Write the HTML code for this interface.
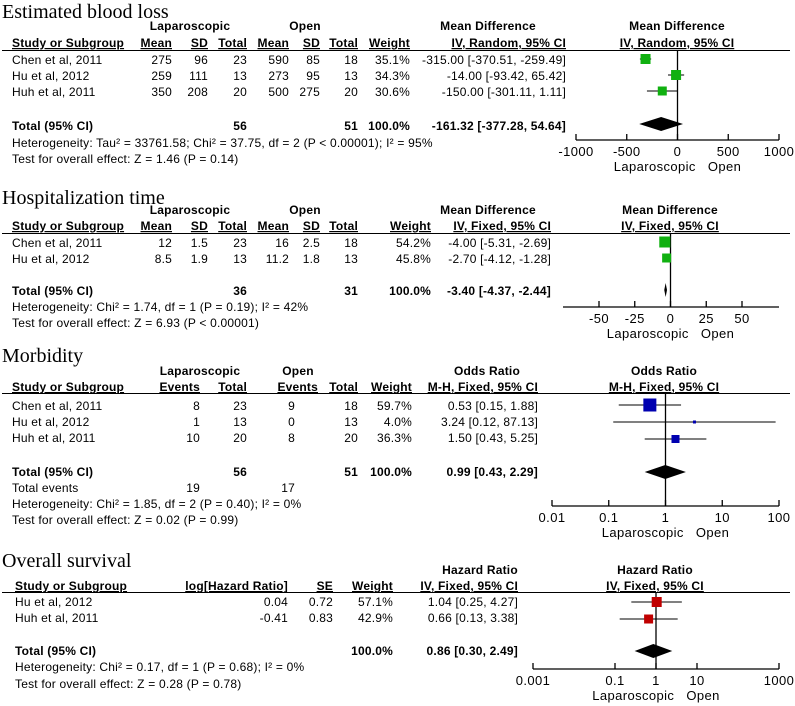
<!DOCTYPE html>
<html><head><meta charset="utf-8">
<style>
body{margin:0;background:#fff;}
svg{display:block;font-family:"Liberation Sans",Arial,sans-serif;font-size:12px;letter-spacing:0.2px;fill:#000;}
.t{font-family:"Liberation Serif",serif;font-size:20px;letter-spacing:0;}
.b{font-weight:bold;}
.u{text-decoration:underline;}
.r{text-anchor:end;}
.m{text-anchor:middle;}
.tk{font-size:13px;letter-spacing:0.4px;}
</style></head><body>
<svg id="chart" width="795" height="706" viewBox="0 0 795 706" xmlns="http://www.w3.org/2000/svg">
<!-- Panel 1 -->
<g>
<text class="t" x="2" y="18">Estimated blood loss</text>
<text class="b m" x="190" y="30">Laparoscopic</text><text class="b m" x="305" y="30">Open</text>
<text class="b m" x="488" y="30">Mean Difference</text><text class="b m" x="677" y="30">Mean Difference</text>
<text class="b u" x="12" y="47">Study or Subgroup</text>
<text class="b u r" x="172" y="47">Mean</text><text class="b u r" x="208" y="47">SD</text><text class="b u r" x="247" y="47">Total</text>
<text class="b u r" x="289" y="47">Mean</text><text class="b u r" x="320" y="47">SD</text><text class="b u r" x="358" y="47">Total</text>
<text class="b u r" x="410" y="47">Weight</text><text class="b u r" x="566" y="47">IV, Random, 95% CI</text>
<text class="b u m" x="677" y="47">IV, Random, 95% CI</text>
<line x1="2" y1="50.5" x2="790" y2="50.5" stroke="#000"/>
<text x="12" y="64">Chen et al, 2011</text><text class="r" x="172" y="64">275</text><text class="r" x="208" y="64">96</text><text class="r" x="247" y="64">23</text><text class="r" x="289" y="64">590</text><text class="r" x="320" y="64">85</text><text class="r" x="358" y="64">18</text><text class="r" x="410" y="64">35.1%</text><text class="r" x="566" y="64">-315.00 [-370.51, -259.49]</text>
<text x="12" y="80">Hu et al, 2012</text><text class="r" x="172" y="80">259</text><text class="r" x="208" y="80">111</text><text class="r" x="247" y="80">13</text><text class="r" x="289" y="80">273</text><text class="r" x="320" y="80">95</text><text class="r" x="358" y="80">13</text><text class="r" x="410" y="80">34.3%</text><text class="r" x="566" y="80">-14.00 [-93.42, 65.42]</text>
<text x="12" y="96">Huh et al, 2011</text><text class="r" x="172" y="96">350</text><text class="r" x="208" y="96">208</text><text class="r" x="247" y="96">20</text><text class="r" x="289" y="96">500</text><text class="r" x="320" y="96">275</text><text class="r" x="358" y="96">20</text><text class="r" x="410" y="96">30.6%</text><text class="r" x="566" y="96">-150.00 [-301.11, 1.11]</text>
<text class="b" x="12" y="130">Total (95% CI)</text><text class="b r" x="247" y="130">56</text><text class="b r" x="358" y="130">51</text><text class="b r" x="410" y="130">100.0%</text><text class="b r" x="566" y="130">-161.32 [-377.28, 54.64]</text>
<text x="12" y="147">Heterogeneity: Tau² = 33761.58; Chi² = 37.75, df = 2 (P &lt; 0.00001); I² = 95%</text>
<text x="12" y="163">Test for overall effect: Z = 1.46 (P = 0.14)</text>
</g>
<!-- Panel 2 -->
<g>
<text class="t" x="2" y="204">Hospitalization time</text>
<text class="b m" x="190" y="214">Laparoscopic</text><text class="b m" x="305" y="214">Open</text>
<text class="b m" x="488" y="214">Mean Difference</text><text class="b m" x="670" y="214">Mean Difference</text>
<text class="b u" x="12" y="230">Study or Subgroup</text>
<text class="b u r" x="172" y="230">Mean</text><text class="b u r" x="208" y="230">SD</text><text class="b u r" x="247" y="230">Total</text>
<text class="b u r" x="289" y="230">Mean</text><text class="b u r" x="320" y="230">SD</text><text class="b u r" x="358" y="230">Total</text>
<text class="b u r" x="431" y="230">Weight</text><text class="b u r" x="551" y="230">IV, Fixed, 95% CI</text>
<text class="b u m" x="670" y="230">IV, Fixed, 95% CI</text>
<line x1="2" y1="233.5" x2="790" y2="233.5" stroke="#000"/>
<text x="12" y="247">Chen et al, 2011</text><text class="r" x="172" y="247">12</text><text class="r" x="208" y="247">1.5</text><text class="r" x="247" y="247">23</text><text class="r" x="289" y="247">16</text><text class="r" x="320" y="247">2.5</text><text class="r" x="358" y="247">18</text><text class="r" x="431" y="247">54.2%</text><text class="r" x="551" y="247">-4.00 [-5.31, -2.69]</text>
<text x="12" y="263">Hu et al, 2012</text><text class="r" x="172" y="263">8.5</text><text class="r" x="208" y="263">1.9</text><text class="r" x="247" y="263">13</text><text class="r" x="289" y="263">11.2</text><text class="r" x="320" y="263">1.8</text><text class="r" x="358" y="263">13</text><text class="r" x="431" y="263">45.8%</text><text class="r" x="551" y="263">-2.70 [-4.12, -1.28]</text>
<text class="b" x="12" y="295">Total (95% CI)</text><text class="b r" x="247" y="295">36</text><text class="b r" x="358" y="295">31</text><text class="b r" x="431" y="295">100.0%</text><text class="b r" x="551" y="295">-3.40 [-4.37, -2.44]</text>
<text x="12" y="311">Heterogeneity: Chi² = 1.74, df = 1 (P = 0.19); I² = 42%</text>
<text x="12" y="327">Test for overall effect: Z = 6.93 (P &lt; 0.00001)</text>
</g>
<!-- Panel 3 -->
<g>
<text class="t" x="2" y="362">Morbidity</text>
<text class="b m" x="200" y="375">Laparoscopic</text><text class="b m" x="298" y="375">Open</text>
<text class="b m" x="487" y="375">Odds Ratio</text><text class="b m" x="664" y="375">Odds Ratio</text>
<text class="b u" x="12" y="391">Study or Subgroup</text>
<text class="b u r" x="200" y="391">Events</text><text class="b u r" x="247" y="391">Total</text>
<text class="b u r" x="318" y="391">Events</text><text class="b u r" x="358" y="391">Total</text>
<text class="b u r" x="412" y="391">Weight</text><text class="b u r" x="538" y="391">M-H, Fixed, 95% CI</text>
<text class="b u m" x="664" y="391">M-H, Fixed, 95% CI</text>
<line x1="2" y1="393.5" x2="790" y2="393.5" stroke="#000"/>
<text x="12" y="410">Chen et al, 2011</text><text class="r" x="200" y="410">8</text><text class="r" x="247" y="410">23</text><text class="r" x="295" y="410">9</text><text class="r" x="358" y="410">18</text><text class="r" x="412" y="410">59.7%</text><text class="r" x="538" y="410">0.53 [0.15, 1.88]</text>
<text x="12" y="426">Hu et al, 2012</text><text class="r" x="200" y="426">1</text><text class="r" x="247" y="426">13</text><text class="r" x="295" y="426">0</text><text class="r" x="358" y="426">13</text><text class="r" x="412" y="426">4.0%</text><text class="r" x="538" y="426">3.24 [0.12, 87.13]</text>
<text x="12" y="442">Huh et al, 2011</text><text class="r" x="200" y="442">10</text><text class="r" x="247" y="442">20</text><text class="r" x="295" y="442">8</text><text class="r" x="358" y="442">20</text><text class="r" x="412" y="442">36.3%</text><text class="r" x="538" y="442">1.50 [0.43, 5.25]</text>
<text class="b" x="12" y="476">Total (95% CI)</text><text class="b r" x="247" y="476">56</text><text class="b r" x="358" y="476">51</text><text class="b r" x="412" y="476">100.0%</text><text class="b r" x="538" y="476">0.99 [0.43, 2.29]</text>
<text x="12" y="492">Total events</text><text class="r" x="200" y="492">19</text><text class="r" x="295" y="492">17</text>
<text x="12" y="508">Heterogeneity: Chi² = 1.85, df = 2 (P = 0.40); I² = 0%</text>
<text x="12" y="524">Test for overall effect: Z = 0.02 (P = 0.99)</text>
</g>
<!-- Panel 4 -->
<g>
<text class="t" x="2" y="567">Overall survival</text>
<text class="b m" x="480" y="574">Hazard Ratio</text><text class="b m" x="655" y="574">Hazard Ratio</text>
<text class="b u" x="15" y="590">Study or Subgroup</text>
<text class="b u r" x="288" y="590">log[Hazard Ratio]</text><text class="b u r" x="333" y="590">SE</text>
<text class="b u r" x="393" y="590">Weight</text><text class="b u r" x="518" y="590">IV, Fixed, 95% CI</text>
<text class="b u m" x="655" y="590">IV, Fixed, 95% CI</text>
<line x1="2" y1="592.5" x2="790" y2="592.5" stroke="#000"/>
<text x="15" y="606">Hu et al, 2012</text><text class="r" x="288" y="606">0.04</text><text class="r" x="333" y="606">0.72</text><text class="r" x="393" y="606">57.1%</text><text class="r" x="518" y="606">1.04 [0.25, 4.27]</text>
<text x="15" y="622">Huh et al, 2011</text><text class="r" x="288" y="622">-0.41</text><text class="r" x="333" y="622">0.83</text><text class="r" x="393" y="622">42.9%</text><text class="r" x="518" y="622">0.66 [0.13, 3.38]</text>
<text class="b" x="15" y="655">Total (95% CI)</text><text class="b r" x="393" y="655">100.0%</text><text class="b r" x="518" y="655">0.86 [0.30, 2.49]</text>
<text x="15" y="671">Heterogeneity: Chi² = 0.17, df = 1 (P = 0.68); I² = 0%</text>
<text x="15" y="688">Test for overall effect: Z = 0.28 (P = 0.78)</text>
</g>
<g id="plots"></g>
</svg>
<script>
// Panel 1: blood loss (linear)
const p1Est = [-315, -14, -150];
const p1Lo = [-370.51, -93.42, -301.11];
const p1Hi = [-259.49, 65.42, 1.11];
const p1Sz = [10, 10, 9];
const p1Tot = [-161.32, -377.28, 54.64];
const p1Ticks = [-1000, -500, 0, 500, 1000];
const p1TickLabels = ["-1000", "-500", "0", "500", "1000"];
// Panel 2: hospitalization (linear)
const p2Est = [-4.0, -2.7];
const p2Lo = [-5.31, -4.12];
const p2Hi = [-2.69, -1.28];
const p2Sz = [11, 9];
const p2Tot = [-3.40, -4.37, -2.44];
const p2Ticks = [-50, -25, 0, 25, 50];
const p2TickLabels = ["-50", "-25", "0", "25", "50"];
// Panel 3: morbidity (log)
const p3Est = [0.53, 3.24, 1.50];
const p3Lo = [0.15, 0.12, 0.43];
const p3Hi = [1.88, 87.13, 5.25];
const p3Sz = [13, 3, 8];
const p3Tot = [0.99, 0.43, 2.29];
const p3Ticks = [0.01, 0.1, 1, 10, 100];
const p3TickLabels = ["0.01", "0.1", "1", "10", "100"];
// Panel 4: survival (log)
const p4Est = [1.04, 0.66];
const p4Lo = [0.25, 0.13];
const p4Hi = [4.27, 3.38];
const p4Sz = [10, 9];
const p4Tot = [0.86, 0.30, 2.49];
const p4Ticks = [0.001, 0.1, 1, 10, 1000];
const p4TickLabels = ["0.001", "0.1", "1", "10", "1000"];

const NS = "http://www.w3.org/2000/svg";
const root = document.getElementById("plots");
function mk(tag, attrs, parent) {
  const e = document.createElementNS(NS, tag);
  for (const k in attrs) e.setAttribute(k, attrs[k]);
  (parent || root).appendChild(e);
  return e;
}
function panel(id, cfg) {
  const g = mk("g", {});
  
  
  const sx = cfg.sx;
  const nullX = sx(cfg.nullVal);
  const zl = mk("line", {x1: nullX, y1: cfg.top, x2: nullX, y2: cfg.axisY, stroke: "#000", "stroke-width": 1.3}, g);
  
  
  const ax = mk("line", {x1: cfg.axisX0, y1: cfg.axisY, x2: cfg.axisX1, y2: cfg.axisY, stroke: "#000", "stroke-width": 1.3}, g);
  
  
  cfg.ticks.forEach((t, i) => {
    const x = sx(t);
    const tk = mk("line", {x1: x, y1: cfg.axisY - 6, x2: x, y2: cfg.axisY, stroke: "#000", "stroke-width": 1.3}, g);
    
    
    const tl = mk("text", {x: x, y: cfg.axisY + 16, "text-anchor": "middle", class: "tk"}, g);
    tl.textContent = cfg.labels[i];
    
    
  });
  const cap = mk("text", {x: nullX, y: cfg.axisY + 31, "text-anchor": "middle", class: "tk"}, g);
  cap.textContent = "Laparoscopic   Open";
  cap.style.whiteSpace = "pre";
  
  
  cfg.est.forEach((v, i) => {
    const y = cfg.rows[i];
    const lo = Math.max(sx(cfg.lo[i]), cfg.axisX0), hi = Math.min(sx(cfg.hi[i]), cfg.axisX1);
    const ci = mk("line", {x1: lo, y1: y, x2: hi, y2: y, stroke: "#000", "stroke-width": 1}, g);
    
    
    const s = cfg.sz[i];
    const sq = mk("rect", {x: sx(v) - s / 2, y: y - s / 2, width: s, height: s, fill: cfg.color}, g);
    
    
  });
  const t = cfg.tot, y = cfg.totY, h = 7;
  const d = mk("polygon", {points: `${sx(t[1])},${y} ${sx(t[0])},${y - h} ${sx(t[2])},${y} ${sx(t[0])},${y + h}`, fill: "#000"}, g);
  
  
}
function lin(x0, x1, v0, v1) { return v => x0 + (v - v0) * (x1 - x0) / (v1 - v0); }
function lg(x0, x1, v0, v1) { return v => x0 + (Math.log10(v) - Math.log10(v0)) * (x1 - x0) / (Math.log10(v1) - Math.log10(v0)); }

panel("blood-loss", {sx: lin(576, 779, -1000, 1000), nullVal: 0, top: 51, axisY: 140, axisX0: 576, axisX1: 779,
  ticks: p1Ticks, labels: p1TickLabels, est: p1Est, lo: p1Lo, hi: p1Hi, sz: p1Sz, rows: [59, 75, 91], color: "#10b010", tot: p1Tot, totY: 124});
panel("hospitalization", {sx: lin(599, 742, -50, 50), nullVal: 0, top: 234, axisY: 307, axisX0: 563, axisX1: 779,
  ticks: p2Ticks, labels: p2TickLabels, est: p2Est, lo: p2Lo, hi: p2Hi, sz: p2Sz, rows: [242, 258], color: "#10b010", tot: p2Tot, totY: 290});
panel("morbidity", {sx: lg(552, 779, 0.01, 100), nullVal: 1, top: 394, axisY: 506, axisX0: 552, axisX1: 779,
  ticks: p3Ticks, labels: p3TickLabels, est: p3Est, lo: p3Lo, hi: p3Hi, sz: p3Sz, rows: [405, 422, 439], color: "#0000b0", tot: p3Tot, totY: 472});
panel("survival", {sx: lg(533, 779, 0.001, 1000), nullVal: 1, top: 593, axisY: 669, axisX0: 533, axisX1: 779,
  ticks: p4Ticks, labels: p4TickLabels, est: p4Est, lo: p4Lo, hi: p4Hi, sz: p4Sz, rows: [602, 619], color: "#c00000", tot: p4Tot, totY: 651});
</script>
</body></html>
